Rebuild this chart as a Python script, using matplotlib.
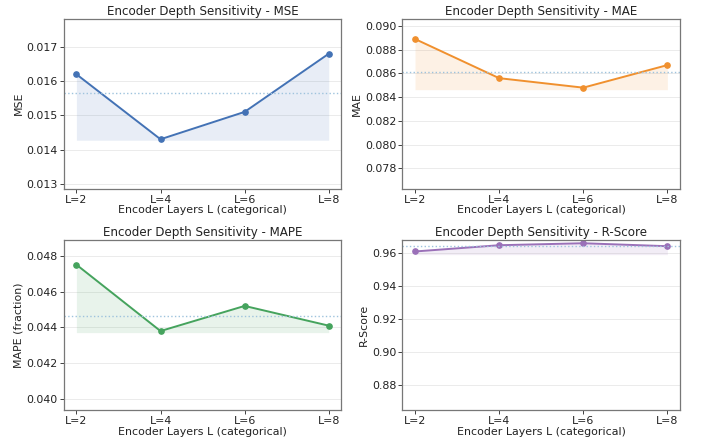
import numpy as np
import matplotlib
matplotlib.use('Agg')
import matplotlib.pyplot as plt

layers      = ['L=2', 'L=4', 'L=6', 'L=8']
mse_vals    = [0.0162, 0.0143, 0.0151, 0.0168]
mae_vals    = [0.0889, 0.0856, 0.0848, 0.0867]
mape_vals   = [0.0475, 0.0438, 0.0452, 0.0441]
rscore_vals = [0.9610, 0.9648, 0.9660, 0.9642]

metric_names = ['MSE', 'MAE', 'MAPE', 'R-Score']
ylabels      = ['MSE', 'MAE', 'MAPE (fraction)', 'R-Score']
colors       = ['#4372b5', '#f0902e', '#45a35d', '#9a70b8']
ylims        = [(0.01286, 0.01782), (0.07630, 0.09060), (0.03940, 0.04886), (0.8648, 0.9678)]
yticks       = [np.arange(0.013, 0.0171, 0.001), np.arange(0.078, 0.0901, 0.002),
                np.arange(0.040, 0.0481, 0.002), np.arange(0.88, 0.961, 0.02)]
yfmt         = ['%.3f', '%.3f', '%.3f', '%.2f']

fig, axs = plt.subplots(2, 2, figsize=(7.01, 4.38), dpi=100)
fig.subplots_adjust(left=0.091, right=0.970, bottom=0.064, top=0.957, wspace=0.22, hspace=0.305)

all_vals = [mse_vals, mae_vals, mape_vals, rscore_vals]
x = np.arange(len(layers))

for i, ax in enumerate(axs.flat):
    vals  = np.array(all_vals[i])
    color = colors[i]
    ax.fill_between(x, vals, vals.min() * 0.998, color=color, alpha=0.12, linewidth=0)
    ax.plot(x, vals, color=color, lw=1.4, marker='o', ms=3.8)
    ax.axhline(np.median(vals), color='#9ec3dd', ls=':', lw=1.0)
    ax.set_title('Encoder Depth Sensitivity - ' + metric_names[i], fontsize=8.6, color='#222222', pad=3)
    ax.set_xlabel('Encoder Layers L (categorical)', fontsize=7.9, color='#222222', labelpad=0.5)
    ax.set_ylabel(ylabels[i], fontsize=7.9, color='#222222', labelpad=2)
    ax.set_xticks(x)
    ax.set_xticklabels(layers)
    ax.set_xlim(-0.15, 3.15)
    ax.set_ylim(*ylims[i])
    ax.set_yticks(yticks[i])
    ax.set_yticklabels([yfmt[i] % v for v in yticks[i]])
    ax.tick_params(labelsize=7.9, colors='#222222', length=3, width=0.6, pad=1.5)
    ax.grid(axis='y', color='#e6e6e6', lw=0.7, alpha=0.8)
    ax.set_axisbelow(True)
    for sp in ax.spines.values():
        sp.set_color('#777777')
        sp.set_linewidth(0.9)

fig.savefig('out.png', dpi=100)
